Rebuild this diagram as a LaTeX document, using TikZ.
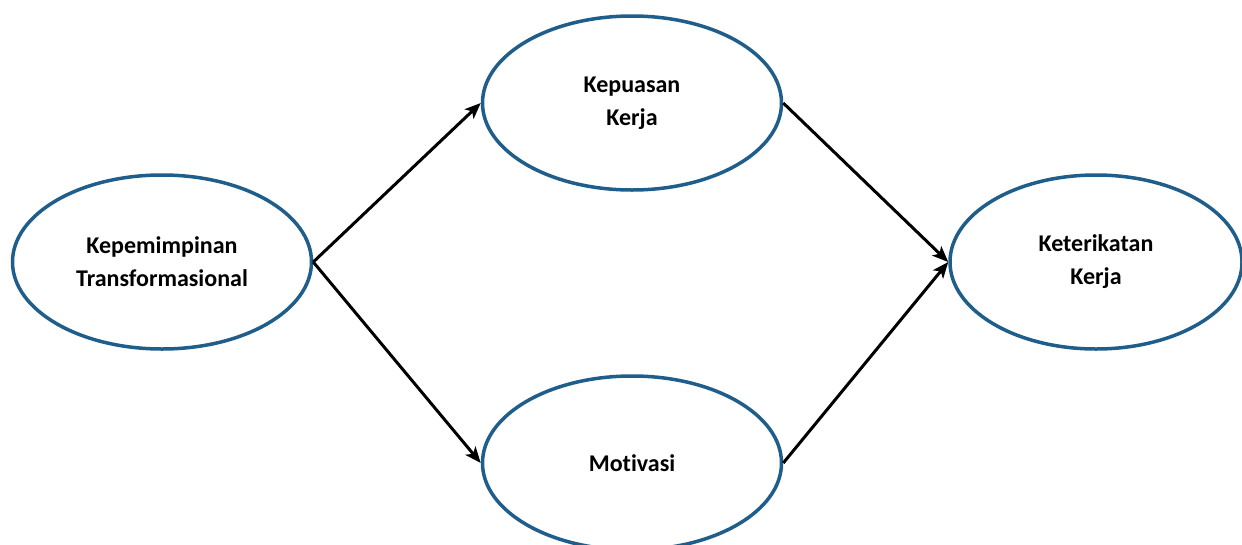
\documentclass[tikz,border=0pt]{standalone}
\usepackage{fontspec}
\setmainfont[Ligatures={NoCommon}]{Carlito}
\usetikzlibrary{shapes.geometric,arrows.meta}
\definecolor{ellblue}{HTML}{1F5E8A}
\tikzset{
  var/.style={ellipse, draw=ellblue, line width=3.5pt, fill=white,
    minimum width=299pt, minimum height=174pt, inner sep=0pt,
    align=center, font=\fontsize{24}{33}\selectfont\bfseries},
  link/.style={line width=3pt, -{Stealth[length=16pt,width=13pt,inset=4pt]}}
}
\begin{document}
\begin{tikzpicture}[x=1pt,y=-1pt]
\useasboundingbox (0,0) rectangle (1242,544);
\node[var] (kt) at (162,262) {Kepemimpinan\\Transformasional};
\node[var] (kk) at (632,103) {Kepuasan\\Kerja};
\node[var] (mo) at (632,463) {Motivasi};
\node[var, minimum width=292pt] (ke) at (1096,262) {Keterikatan\\Kerja};
\draw[link] (kt.east) -- (kk.west);
\draw[link] (kt.east) -- (mo.west);
\draw[link] (kk.east) -- (ke.west);
\draw[link] (mo.east) -- (ke.west);
\end{tikzpicture}
\end{document}
